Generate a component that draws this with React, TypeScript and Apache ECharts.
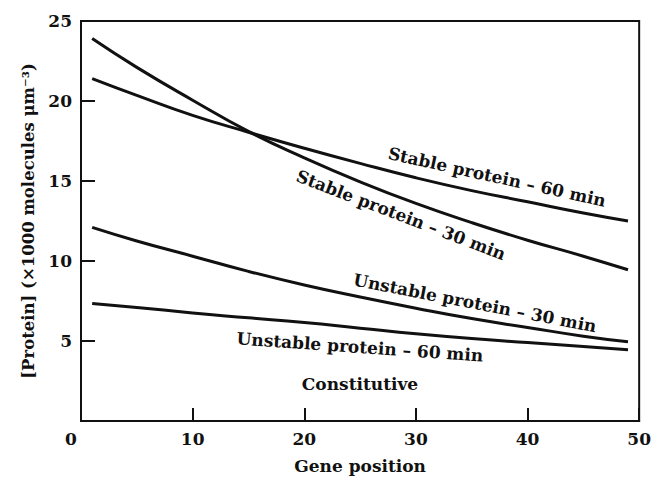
import React, { useEffect, useRef } from "react";
import * as echarts from "echarts";

const genePositions = [1, 5, 10, 15, 20, 25, 30, 35, 40, 45, 49];
const stable30 = [23.9, 22.1, 20.05, 18.1, 16.45, 14.95, 13.6, 12.4, 11.3, 10.3, 9.45];
const stable60 = [21.4, 20.35, 19.1, 18.05, 17.05, 16.1, 15.2, 14.4, 13.7, 13.0, 12.5];
const unstable30 = [12.1, 11.25, 10.3, 9.35, 8.5, 7.75, 7.05, 6.4, 5.85, 5.3, 4.95];
const unstable60 = [7.35, 7.1, 6.75, 6.45, 6.15, 5.8, 5.45, 5.15, 4.9, 4.65, 4.45];
const xTicks = [0, 10, 20, 30, 40, 50];
const yTicks = [0, 5, 10, 15, 20, 25];

const FONT = "'DejaVu Serif', serif";

const pairs = (ys: number[]) => genePositions.map((x, i) => [x, ys[i]]);

export default function App() {
  const ref = useRef<HTMLDivElement>(null);
  useEffect(() => {
    if (!ref.current) return;
    const chart = echarts.init(ref.current, undefined, { renderer: "svg" });
    const line = (name: string, ys: number[]) => ({
      name,
      type: "line",
      data: pairs(ys),
      smooth: true,
      symbol: "none",
      lineStyle: { color: "#111", width: 3 },
    });
    const label = (text: string, x: number, y: number, deg: number) => ({
      type: "text",
      x,
      y,
      rotation: (deg * Math.PI) / 180,
      style: {
        text,
        fill: "#111",
        fontFamily: FONT,
        fontWeight: "bold",
        fontSize: 17,
        align: "center",
        verticalAlign: "middle",
      },
    });
    chart.setOption({
      animation: false,
      backgroundColor: "#fff",
      grid: {
        left: 81,
        right: 12,
        top: 21,
        bottom: 54,
        show: true,
        borderColor: "#111",
        borderWidth: 2,
      },
      xAxis: {
        type: "value",
        min: xTicks[0],
        max: xTicks[xTicks.length - 1],
        interval: 10,
        name: "Gene position",
        nameLocation: "middle",
        nameGap: 36,
        nameTextStyle: { fontFamily: FONT, fontWeight: "bold", fontSize: 17, color: "#111" },
        axisLine: { lineStyle: { color: "#111", width: 2 } },
        axisTick: { inside: true, length: 13, lineStyle: { color: "#111", width: 2 } },
        splitLine: { show: false },
        axisLabel: {
          margin: 9,
          fontFamily: FONT,
          fontWeight: "bold",
          fontSize: 17,
          color: "#111",
          formatter: (v: number) => (v === 0 ? "{z|0}" : String(v)),
          rich: {
            z: { fontFamily: FONT, fontWeight: "bold", fontSize: 17, color: "#111", padding: [0, 20, 0, 0] },
          },
        },
      },
      yAxis: {
        type: "value",
        min: yTicks[0],
        max: yTicks[yTicks.length - 1],
        interval: 5,
        name: "[Protein] (×1000 molecules μm⁻³)",
        nameLocation: "middle",
        nameRotate: 90,
        nameGap: 42,
        nameTextStyle: { fontFamily: FONT, fontWeight: "bold", fontSize: 16.5, color: "#111" },
        axisLine: { show: true, lineStyle: { color: "#111", width: 2 } },
        axisTick: { show: true, inside: true, length: 14, lineStyle: { color: "#111", width: 2 } },
        splitLine: { show: false },
        axisLabel: {
          margin: 9,
          fontFamily: FONT,
          fontWeight: "bold",
          fontSize: 17,
          color: "#111",
          formatter: (v: number) => (v === 0 ? "" : String(v)),
        },
      },
      series: [
        line("Stable protein – 30 min", stable30),
        line("Stable protein – 60 min", stable60),
        line("Unstable protein – 30 min", unstable30),
        line("Unstable protein – 60 min", unstable60),
      ],
      graphic: [
        label("Stable protein – 60 min", 497, 177, -12.5),
        label("Stable protein – 30 min", 401, 215, -21),
        label("Unstable protein – 30 min", 475, 303, -11),
        label("Unstable protein – 60 min", 360, 347, -4),
        label("Constitutive", 360, 384, 0),
      ],
    });
    return () => chart.dispose();
  }, []);
  return (
    <div
      ref={ref}
      style={{ position: "absolute", left: 0, top: 0, width: 654, height: 479 }}
    />
  );
}
